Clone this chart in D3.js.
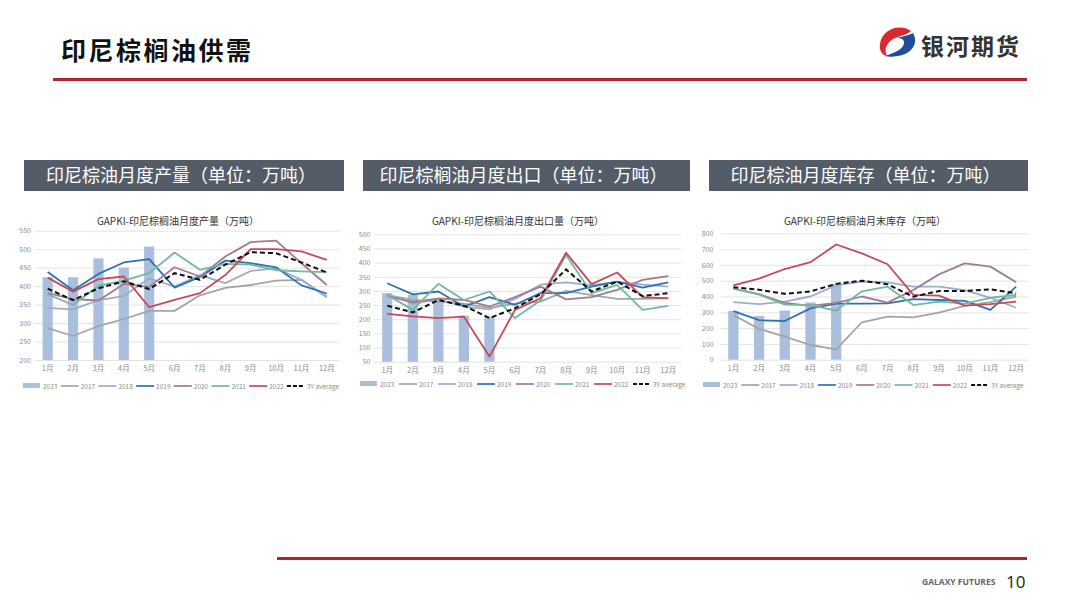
<!DOCTYPE html>
<html>
<head>
<meta charset="utf-8">
<script src="https://cdn.jsdelivr.net/npm/d3@7"></script>
<style>
  body { margin: 0; background: #fff; }
  text { font-family: "Noto Sans CJK SC", "Noto Sans", sans-serif; }
</style>
</head>
<body>
<script>
// months / legend
var months = ["1月","2月","3月","4月","5月","6月","7月","8月","9月","10月","11月","12月"]
var legendNames = ["2023","2017","2018","2019","2020","2021","2022","3Y average"]
var yearColors = ["#a5a5a5","#9aaecb","#2f72b0","#a27b93","#74b89c","#c44b5c"]

// production (万吨)
var prod2023 = [424, 424, 475, 450, 507]
var prod2017 = [286, 265, 292, 311, 333, 333, 375, 395, 403, 415, 417, 372]
var prod2018 = [341, 337, 362, 373, 421, 399, 430, 408, 441, 448, 417, 369]
var prod2019 = [438, 389, 433, 464, 473, 396, 425, 469, 462, 451, 402, 380]
var prod2020 = [381, 365, 361, 406, 398, 451, 426, 480, 519, 523, 462, 403]
var prod2021 = [378, 349, 401, 415, 435, 491, 444, 460, 458, 443, 440, 438]
var prod2022 = [423, 385, 419, 426, 343, 363, 381, 430, 500, 500, 494, 471]
var prodAvg  = [393, 362, 394, 413, 392, 435, 417, 458, 492, 489, 464, 437]

// exports (万吨)
var exp2023 = [292, 286, 262, 213, 209]
var exp2017 = [285, 268, 262, 255, 240, 255, 262, 300, 285, 272, 272, 275]
var exp2018 = [290, 255, 270, 245, 235, 272, 322, 330, 320, 332, 322, 315]
var exp2019 = [327, 288, 298, 245, 278, 251, 292, 292, 315, 333, 312, 330]
var exp2020 = [282, 260, 274, 268, 245, 278, 315, 270, 278, 304, 339, 352]
var exp2021 = [286, 233, 325, 268, 298, 204, 266, 427, 292, 321, 233, 247]
var exp2022 = [219, 210, 204, 209, 68, 233, 274, 435, 324, 365, 278, 274]
var expAvg  = [248, 224, 268, 248, 204, 239, 288, 376, 298, 333, 282, 292]

// stocks (万吨)
var stk2023 = [308, 277, 311, 363, 479]
var stk2017 = [283, 195, 146, 93, 66, 237, 273, 268, 298, 340, 365, 400]
var stk2018 = [365, 352, 368, 400, 470, 495, 490, 462, 462, 441, 392, 329]
var stk2019 = [307, 250, 245, 325, 355, 355, 357, 384, 378, 372, 315, 462]
var stk2020 = [450, 415, 360, 340, 360, 400, 361, 441, 540, 610, 589, 490]
var stk2021 = [450, 412, 349, 345, 311, 433, 462, 346, 367, 355, 392, 410]
var stk2022 = [470, 513, 574, 617, 729, 673, 604, 410, 405, 342, 352, 367]
var stkAvg  = [458, 443, 417, 432, 480, 500, 477, 399, 435, 435, 445, 420]

var svg = d3.select("body").append("svg")
    .attr("width", 1080)
    .attr("height", 608)

// header
svg.append("text")
    .attr("x", 61).attr("y", 60)
    .style("font-size", "25px").style("font-weight", "bold")
    .style("letter-spacing", "2.5px")
    .attr("fill", "#111")
    .text("印尼棕榈油供需")

svg.append("rect").attr("x", 53).attr("y", 78).attr("width", 974).attr("height", 3).attr("fill", "#b3232a")

// logo
svg.append("path")
    .attr("d", "M911,31 C900,23 882,29 880,44 C879,51 882,55 887,56 C883,48 888,40 898,37 C903,35 908,34 911,31 Z")
    .attr("fill", "#d92a2f")
svg.append("path")
    .attr("d", "M913,33 C919,43 912,54 898,56 C892,57 888,57 885,56 C893,53 900,51 903,46 C906,41 903,38 897,38 C904,36 910,35 913,33 Z")
    .attr("fill", "#1f4e9b")
svg.append("text")
    .attr("x", 921).attr("y", 55)
    .style("font-size", "23px").style("font-weight", "bold")
    .style("letter-spacing", "2px")
    .attr("fill", "#333")
    .text("银河期货")

// grey section headers
var heads = [
    {x: 24, w: 320, t: "印尼棕油月度产量（单位：万吨）"},
    {x: 363, w: 327, t: "印尼棕榈油月度出口（单位：万吨）"},
    {x: 709, w: 319, t: "印尼棕油月度库存（单位：万吨）"}
]
heads.forEach(function(h) {
    svg.append("rect").attr("x", h.x).attr("y", 160).attr("width", h.w).attr("height", 31).attr("fill", "#535c67")
    svg.append("text")
        .attr("x", h.x + h.w / 2 - 3).attr("y", 182)
        .attr("text-anchor", "middle")
        .style("font-size", "18px")
        .attr("fill", "#fff")
        .text(h.t)
})

// footer
svg.append("rect").attr("x", 277).attr("y", 557).attr("width", 750).attr("height", 3).attr("fill", "#b3232a")
svg.append("text")
    .attr("x", 922).attr("y", 585)
    .style("font-family", "'Open Sans', sans-serif")
    .style("font-size", "8.5px").style("font-weight", "bold")
    .attr("fill", "#666")
    .text("GALAXY FUTURES")
svg.append("text")
    .attr("x", 1006).attr("y", 588)
    .style("font-family", "'Open Sans', sans-serif")
    .style("font-size", "17px")
    .attr("fill", "#222")
    .text("10")

function drawChart(o) {
    var g = svg.append("g")
    var x = d3.scaleBand().domain(months).range([o.left, o.right])
    var y = d3.scaleLinear().domain([o.ymin, o.ymax]).range([o.bottom, o.top])
    var bw = x.bandwidth()

    g.append("text")
        .attr("x", o.titleX).attr("y", 225)
        .attr("text-anchor", "middle")
        .style("font-size", "10px")
        .attr("fill", "#333")
        .text(o.title)

    var yAxis = g.append("g")
        .attr("transform", "translate(" + o.left + ",0)")
        .call(d3.axisLeft(y)
            .tickValues(d3.range(o.ymin, o.ymax + 1, o.step))
            .tickSize(-(o.right - o.left))
            .tickPadding(o.pad))
    yAxis.select(".domain").remove()
    yAxis.selectAll("line").attr("stroke", "#dcdcdc").attr("stroke-width", 0.8)
    yAxis.selectAll("text").attr("fill", "#8c8c8c").style("font-size", "7px")

    var xAxis = g.append("g")
        .attr("transform", "translate(0," + o.bottom + ")")
        .call(d3.axisBottom(x).tickSize(0).tickPadding(6))
    xAxis.select(".domain").remove()
    xAxis.selectAll("text").attr("fill", "#8c8c8c").style("font-size", "7.5px")

    g.selectAll(".bar").data(o.bars)
        .enter().append("rect")
        .attr("x", function(d, i) { return x(months[i]) + bw * 0.3 })
        .attr("y", function(d) { return y(d) })
        .attr("width", bw * 0.4)
        .attr("height", function(d) { return y(o.ymin) - y(d) })
        .attr("fill", "#a9bfdd")

    var line = d3.line()
        .x(function(d, i) { return x(months[i]) + bw / 2 })
        .y(function(d) { return y(d) })

    o.lines.forEach(function(s, i) {
        g.append("path")
            .datum(s)
            .attr("d", line)
            .attr("fill", "none")
            .attr("stroke", yearColors[i])
            .attr("stroke-width", 1.8)
            .attr("stroke-linejoin", "round")
    })
    g.append("path")
        .datum(o.avg)
        .attr("d", line)
        .attr("fill", "none")
        .attr("stroke", "#111")
        .attr("stroke-width", 2)
        .attr("stroke-dasharray", "5,3")

    // legend
    legendNames.forEach(function(name, i) {
        var lx = o.legendX + i * o.legendStep
        if (i === 0) {
            g.append("rect").attr("x", lx).attr("y", o.legendY - 3).attr("width", 17).attr("height", 5).attr("fill", "#a9bfdd")
        } else {
            g.append("line")
                .attr("x1", lx).attr("x2", lx + 18)
                .attr("y1", o.legendY).attr("y2", o.legendY)
                .attr("stroke", i === 7 ? "#111" : yearColors[i - 1])
                .attr("stroke-width", i === 7 ? 2 : 1.7)
                .attr("stroke-dasharray", i === 7 ? "4,2" : null)
        }
        g.append("text")
            .attr("x", lx + 20).attr("y", o.legendY + 2.5)
            .style("font-size", "6.5px")
            .attr("fill", "#8c8c8c")
            .text(name)
    })
}

drawChart({
    title: "GAPKI-印尼棕榈油月度产量（万吨）", titleX: 178,
    left: 35, right: 339.5, top: 230.7, bottom: 360, ymin: 200, ymax: 550, step: 50, pad: 4,
    bars: prod2023, lines: [prod2017, prod2018, prod2019, prod2020, prod2021, prod2022], avg: prodAvg,
    legendX: 23, legendStep: 37.7, legendY: 386
})
drawChart({
    title: "GAPKI-印尼棕榈油月度出口量（万吨）", titleX: 518,
    left: 374.5, right: 681, top: 234.3, bottom: 361.7, ymin: 50, ymax: 500, step: 50, pad: 4,
    bars: exp2023, lines: [exp2017, exp2018, exp2019, exp2020, exp2021, exp2022], avg: expAvg,
    legendX: 360, legendStep: 39, legendY: 384
})
drawChart({
    title: "GAPKI-印尼棕榈油月末库存（万吨）", titleX: 865,
    left: 720.5, right: 1029, top: 233.3, bottom: 359.7, ymin: 0, ymax: 800, step: 100, pad: 7,
    bars: stk2023, lines: [stk2017, stk2018, stk2019, stk2020, stk2021, stk2022], avg: stkAvg,
    legendX: 703, legendStep: 38.3, legendY: 385
})
</script>
</body>
</html>
